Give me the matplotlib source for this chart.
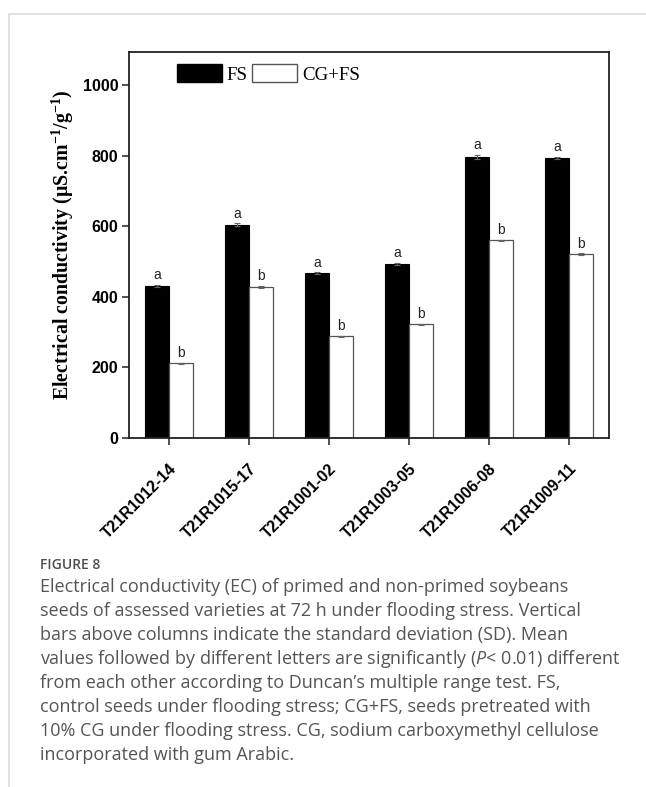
import numpy as np
import matplotlib
matplotlib.use("Agg")
import matplotlib.pyplot as plt
from matplotlib.patches import Patch

# data
varieties = ["T21R1012-14", "T21R1015-17", "T21R1001-02",
             "T21R1003-05", "T21R1006-08", "T21R1009-11"]
fs_mean = [430, 605, 466, 493, 796, 793]
fs_sd = [3, 3, 3, 3, 6, 3]
cgfs_mean = [211, 428, 287, 321, 560, 521]
cgfs_sd = [2, 3, 2, 2, 2, 2]
fs_letters = ["a", "a", "a", "a", "a", "a"]
cgfs_letters = ["b", "b", "b", "b", "b", "b"]
y_ticks = [0, 200, 400, 600, 800, 1000]

caption_title = "FIGURE 8"
caption_lines = [
    "Electrical conductivity (EC) of primed and non-primed soybeans",
    "seeds of assessed varieties at 72 h under flooding stress. Vertical",
    "bars above columns indicate the standard deviation (SD). Mean",
    "values followed by different letters are significantly ($\\it{P}$< 0.01) different",
    "from each other according to Duncan\u2019s multiple range test. FS,",
    "control seeds under flooding stress; CG+FS, seeds pretreated with",
    "10% CG under flooding stress. CG, sodium carboxymethyl cellulose",
    "incorporated with gum Arabic.",
]

plt.rcParams["mathtext.fontset"] = "custom"
plt.rcParams["mathtext.rm"] = "Liberation Serif"
plt.rcParams["mathtext.bf"] = "Liberation Serif:bold"
plt.rcParams["mathtext.it"] = "Open Sans:italic"

W, H = 646, 787
fig = plt.figure(figsize=(W / 100, H / 100), dpi=100)

# light frame lines of the page
fig.add_artist(plt.Line2D([9 / W, 1], [1 - 14 / H] * 2, color="#dcdcdc", lw=1.2))
fig.add_artist(plt.Line2D([9 / W] * 2, [0, 1 - 14 / H], color="#dcdcdc", lw=1.2))

ax = fig.add_axes([129 / W, 1 - 437.5 / H, 480 / W, 385.5 / H])

x = np.arange(len(varieties))
w = 0.3
err_style = dict(ecolor="#666666", capsize=2, elinewidth=0.8, capthick=0.8)
ax.bar(x - w / 2, fs_mean, w, color="black", edgecolor="black", lw=0.8,
       yerr=fs_sd, error_kw=err_style)
ax.bar(x + w / 2, cgfs_mean, w, color="white", edgecolor="#555555", lw=0.9,
       yerr=cgfs_sd, error_kw=err_style)

for i in range(len(varieties)):
    ax.annotate(fs_letters[i], (x[i] - w / 2, fs_mean[i] + fs_sd[i]), xytext=(0, 2),
                textcoords="offset points", ha="center", va="bottom",
                fontsize=10, family="Liberation Sans", color="#222222")
    ax.annotate(cgfs_letters[i], (x[i] + w / 2, cgfs_mean[i] + cgfs_sd[i]), xytext=(0, 2),
                textcoords="offset points", ha="center", va="bottom",
                fontsize=10, family="Liberation Sans", color="#222222")

ax.set_xlim(-0.5, len(varieties) - 0.5)
ax.set_ylim(0, 1095)
ax.set_yticks(y_ticks)
ax.set_yticklabels([str(v) for v in y_ticks], fontsize=11.5, fontweight="bold",
                   family="Liberation Sans")
ax.set_xticks(x)
ax.set_xticklabels(varieties, rotation=45, ha="right", va="top", rotation_mode="anchor",
                   fontsize=11.5, fontweight="bold", family="Liberation Sans")
ax.tick_params(axis="both", direction="out", length=5, width=1.2, color="#333333")
ax.tick_params(axis="y", pad=2.5)
ax.tick_params(axis="x", pad=12)
for s in ax.spines.values():
    s.set_linewidth(1.3)
    s.set_color("#222222")

ax.set_ylabel("Electrical conductivity (\u00b5S.cm$^{\\mathbf{-1}}$/g$^{\\mathbf{-1}}$)",
              family="Liberation Serif", fontweight="bold", fontsize=14.3, labelpad=5)

handles = [Patch(facecolor="black", edgecolor="black"),
           Patch(facecolor="white", edgecolor="#555555")]
ax.legend(handles, ["FS", "CG+FS"], ncol=2, frameon=False, loc="upper left",
          bbox_to_anchor=(0.073, 1.003), prop={"family": "Liberation Serif", "size": 13.6},
          handlelength=2.35, handleheight=1.1, handletextpad=0.26, columnspacing=0.26,
          borderpad=0.2)

# caption
cap_x = 40 / W
fig.text(cap_x, 1 - 565 / H, caption_title, fontsize=10, color="#4d4d4d",
         family="Open Sans", fontweight="semibold", va="center")
for k, line in enumerate(caption_lines):
    fig.text(cap_x, 1 - (592 + 24 * k) / H, line, fontsize=13, color="#555555",
             family="Open Sans", va="baseline")

fig.savefig("out.png", dpi=100)
